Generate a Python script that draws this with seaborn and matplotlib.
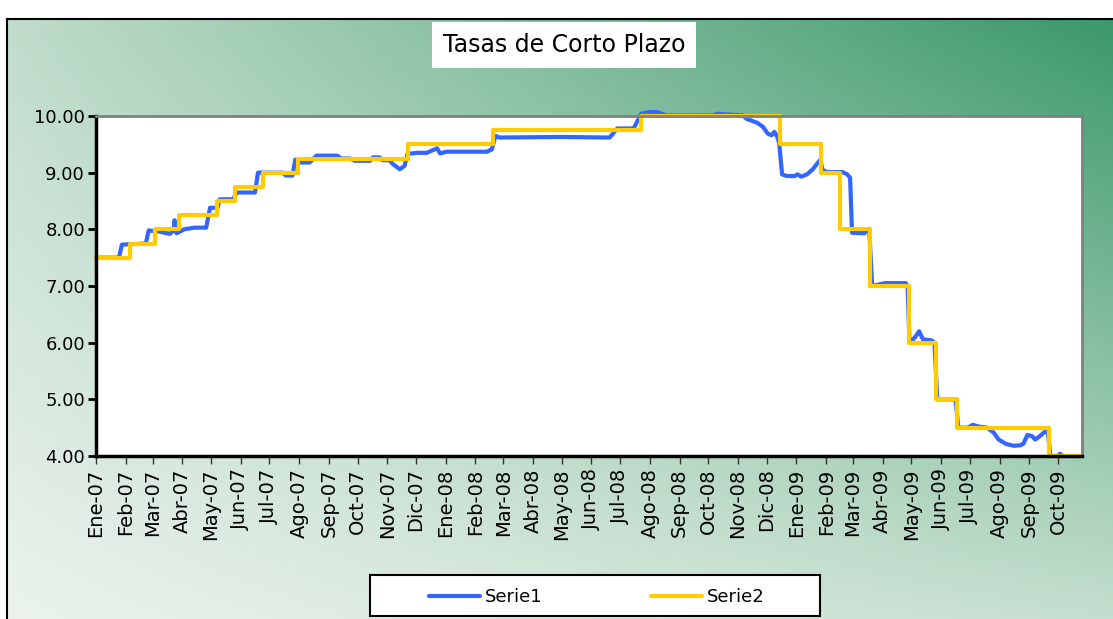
import numpy as np
import pandas as pd
import matplotlib
matplotlib.use("Agg")
import matplotlib.pyplot as plt
from matplotlib.patches import Rectangle
import seaborn as sns

# ----------------------------
# Datos
# ----------------------------

# Serie1: tasa diaria
serie1_fechas = [
    "2007-01-01", "2007-01-25", "2007-01-28", "2007-02-22", "2007-02-25", "2007-03-08",
    "2007-03-19", "2007-03-23", "2007-03-24", "2007-03-26", "2007-04-03", "2007-04-14",
    "2007-04-26", "2007-04-30", "2007-05-08", "2007-05-10", "2007-05-24", "2007-05-28",
    "2007-06-16", "2007-06-19", "2007-07-15", "2007-07-18", "2007-07-25", "2007-07-28",
    "2007-08-02", "2007-08-12", "2007-08-19", "2007-09-10", "2007-09-14", "2007-09-23",
    "2007-09-28", "2007-10-14", "2007-10-17", "2007-10-24", "2007-10-27", "2007-11-03",
    "2007-11-07", "2007-11-14", "2007-11-19", "2007-11-22", "2007-12-02", "2007-12-12",
    "2007-12-23", "2007-12-26", "2008-01-02", "2008-02-13", "2008-02-18", "2008-02-22",
    "2008-02-26", "2008-04-29", "2008-06-20", "2008-06-23", "2008-06-28", "2008-07-14",
    "2008-07-16", "2008-07-23", "2008-08-01", "2008-08-08", "2008-08-19", "2008-10-05",
    "2008-10-11", "2008-10-19", "2008-11-06", "2008-11-10", "2008-11-21", "2008-11-27",
    "2008-12-02", "2008-12-06", "2008-12-09", "2008-12-12", "2008-12-14", "2008-12-17",
    "2008-12-22", "2008-12-30", "2009-01-02", "2009-01-06", "2009-01-12", "2009-01-18",
    "2009-01-23", "2009-01-26", "2009-01-28", "2009-02-02", "2009-02-18", "2009-02-23",
    "2009-02-26", "2009-02-28", "2009-03-13", "2009-03-16", "2009-03-18", "2009-03-21",
    "2009-04-03", "2009-04-25", "2009-04-27", "2009-04-29", "2009-05-05", "2009-05-09",
    "2009-05-13", "2009-05-22", "2009-05-25", "2009-05-28", "2009-06-16", "2009-06-19",
    "2009-06-29", "2009-07-04", "2009-07-10", "2009-07-19", "2009-07-26", "2009-07-31",
    "2009-08-08", "2009-08-16", "2009-08-23", "2009-08-26", "2009-08-30", "2009-09-04",
    "2009-09-07", "2009-09-12", "2009-09-18", "2009-09-20", "2009-09-23", "2009-10-01",
    "2009-10-03", "2009-10-06", "2009-10-22",
]
serie1_valores = [
    7.50, 7.50, 7.73, 7.75, 7.98, 7.96,
    7.92, 7.98, 8.16, 7.93, 8.00, 8.03,
    8.03, 8.38, 8.38, 8.53, 8.53, 8.65,
    8.65, 9.00, 9.00, 8.95, 8.95, 9.23,
    9.18, 9.18, 9.30, 9.30, 9.25, 9.25,
    9.21, 9.21, 9.27, 9.27, 9.22, 9.22,
    9.15, 9.06, 9.12, 9.33, 9.35, 9.35,
    9.43, 9.34, 9.37, 9.37, 9.41, 9.65,
    9.62, 9.63, 9.62, 9.68, 9.78, 9.78,
    9.81, 10.04, 10.07, 10.07, 10.01, 10.01,
    10.04, 10.03, 10.01, 9.95, 9.88, 9.81,
    9.69, 9.66, 9.72, 9.63, 9.52, 8.97,
    8.94, 8.94, 8.97, 8.93, 8.97, 9.06,
    9.17, 9.23, 9.05, 9.01, 9.01, 8.97,
    8.91, 7.94, 7.93, 8.00, 8.00, 7.00,
    7.05, 7.05, 7.00, 6.00, 6.10, 6.20,
    6.06, 6.04, 6.00, 5.00, 5.00, 4.50,
    4.50, 4.55, 4.52, 4.50, 4.41, 4.29,
    4.21, 4.18, 4.19, 4.22, 4.37, 4.35,
    4.29, 4.35, 4.44, 4.48, 4.00, 4.00,
    4.04, 4.00, 4.00,
]

# Serie2: tasa de intervencion (escalones)
serie2_fechas = [
    "2007-01-01", "2007-02-05", "2007-03-04", "2007-03-29", "2007-05-07", "2007-05-26",
    "2007-06-24", "2007-07-31", "2007-11-23", "2008-02-19", "2008-07-23", "2008-12-15",
    "2009-01-27", "2009-02-15", "2009-03-19", "2009-04-28", "2009-05-27", "2009-06-18",
    "2009-09-22", "2009-10-26",
]
serie2_valores = [
    7.50, 7.75, 8.00, 8.25, 8.50, 8.75,
    9.00, 9.25, 9.50, 9.75, 10.00, 9.50,
    9.00, 8.00, 7.00, 6.00, 5.00, 4.50,
    4.00, 4.00,
]

meses = ["Ene", "Feb", "Mar", "Abr", "May", "Jun", "Jul", "Ago", "Sep", "Oct", "Nov", "Dic"]
y_ticks = [4, 5, 6, 7, 8, 9, 10]

df1 = pd.DataFrame({"fecha": pd.to_datetime(serie1_fechas), "tasa": serie1_valores})
df2 = pd.DataFrame({"fecha": pd.to_datetime(serie2_fechas), "tasa": serie2_valores})

# ----------------------------
# Figura
# ----------------------------
sns.set_theme(style="white")
plt.rcParams["font.family"] = ["DejaVu Sans"]
plt.rcParams["text.color"] = "black"
plt.rcParams["xtick.color"] = "black"
plt.rcParams["ytick.color"] = "black"

W, H = 1113, 619
fig = plt.figure(figsize=(W / 100, H / 100), dpi=100)
fig.patch.set_facecolor("white")

# fondo degradado verde
bg = fig.add_axes([7 / W, 0, 1, 1 - 19 / H])
uu, vv = np.meshgrid(np.linspace(0, 1, 400), np.linspace(1, 0, 220))
t = np.clip(0.25 * vv + 0.75 * uu * (0.3 + 0.7 * vv), 0, 1)[..., None]
light = np.array([236, 243, 237]) / 255
dark = np.array([58, 152, 104]) / 255
bg.imshow(light * (1 - t) + dark * t, aspect="auto", extent=[0, 1, 0, 1])
bg.set_xticks([])
bg.set_yticks([])
for s in ["right", "bottom"]:
    bg.spines[s].set_visible(False)
for s in ["left", "top"]:
    bg.spines[s].set_color("black")
    bg.spines[s].set_linewidth(1.5)
bg.set_zorder(0)

# grafico principal
ax = fig.add_axes([96 / W, 1 - 456 / H, (1082 - 96) / W, (456 - 116) / H])
ax.set_zorder(1)
ax.set_facecolor("white")

sns.lineplot(data=df1, x="fecha", y="tasa", ax=ax, color="#3366ff", linewidth=3,
             estimator=None, label="Serie1", clip_on=False)
sns.lineplot(data=df2, x="fecha", y="tasa", ax=ax, color="#ffcc00", linewidth=3,
             estimator=None, drawstyle="steps-post", label="Serie2", clip_on=False)

ax.set_xlim(pd.Timestamp("2007-01-01"), pd.Timestamp("2009-10-26"))
ax.set_ylim(4, 10)
ax.set_yticks(y_ticks)
ax.set_yticklabels([f"{v:.2f}" for v in y_ticks], fontsize=13)

ticks = pd.date_range("2007-01-01", "2009-10-01", freq="MS")
ax.set_xticks(ticks)
ax.set_xticklabels([f"{meses[d.month - 1]}-{d.strftime('%y')}" for d in ticks],
                   rotation=90, fontsize=14)
ax.set_xlabel("")
ax.set_ylabel("")

ax.tick_params(axis="y", direction="out", length=6, width=2, color="black", pad=2, left=True)
ax.tick_params(axis="x", direction="out", length=6, width=1, color="#333333", pad=3, bottom=True)
for s in ["left", "bottom"]:
    ax.spines[s].set_color("black")
    ax.spines[s].set_linewidth(2.5)
for s in ["top", "right"]:
    ax.spines[s].set_color("#808080")
    ax.spines[s].set_linewidth(2)

# titulo en recuadro blanco
fig.text(564 / W, 1 - 45 / H, "Tasas de Corto Plazo", ha="center", va="center", fontsize=17,
         color="black", bbox=dict(boxstyle="square,pad=0.45", fc="white", ec="none"), zorder=3)

# leyenda en recuadro inferior
handles, labels = ax.get_legend_handles_labels()
ax.get_legend().remove()
fig.patches.append(Rectangle((370 / W, 1 - 616 / H), (820 - 370) / W, (616 - 575) / H,
                             transform=fig.transFigure, fc="white", ec="black", lw=1.5, zorder=2))
leg = fig.legend(handles, labels, loc="center", bbox_to_anchor=(597 / W, 1 - 597 / H), ncol=2,
                 frameon=False, fontsize=13, handlelength=2.8, handletextpad=0.3,
                 columnspacing=6)
for txt in leg.get_texts():
    txt.set_color("black")

fig.savefig("out.png", dpi=100)
